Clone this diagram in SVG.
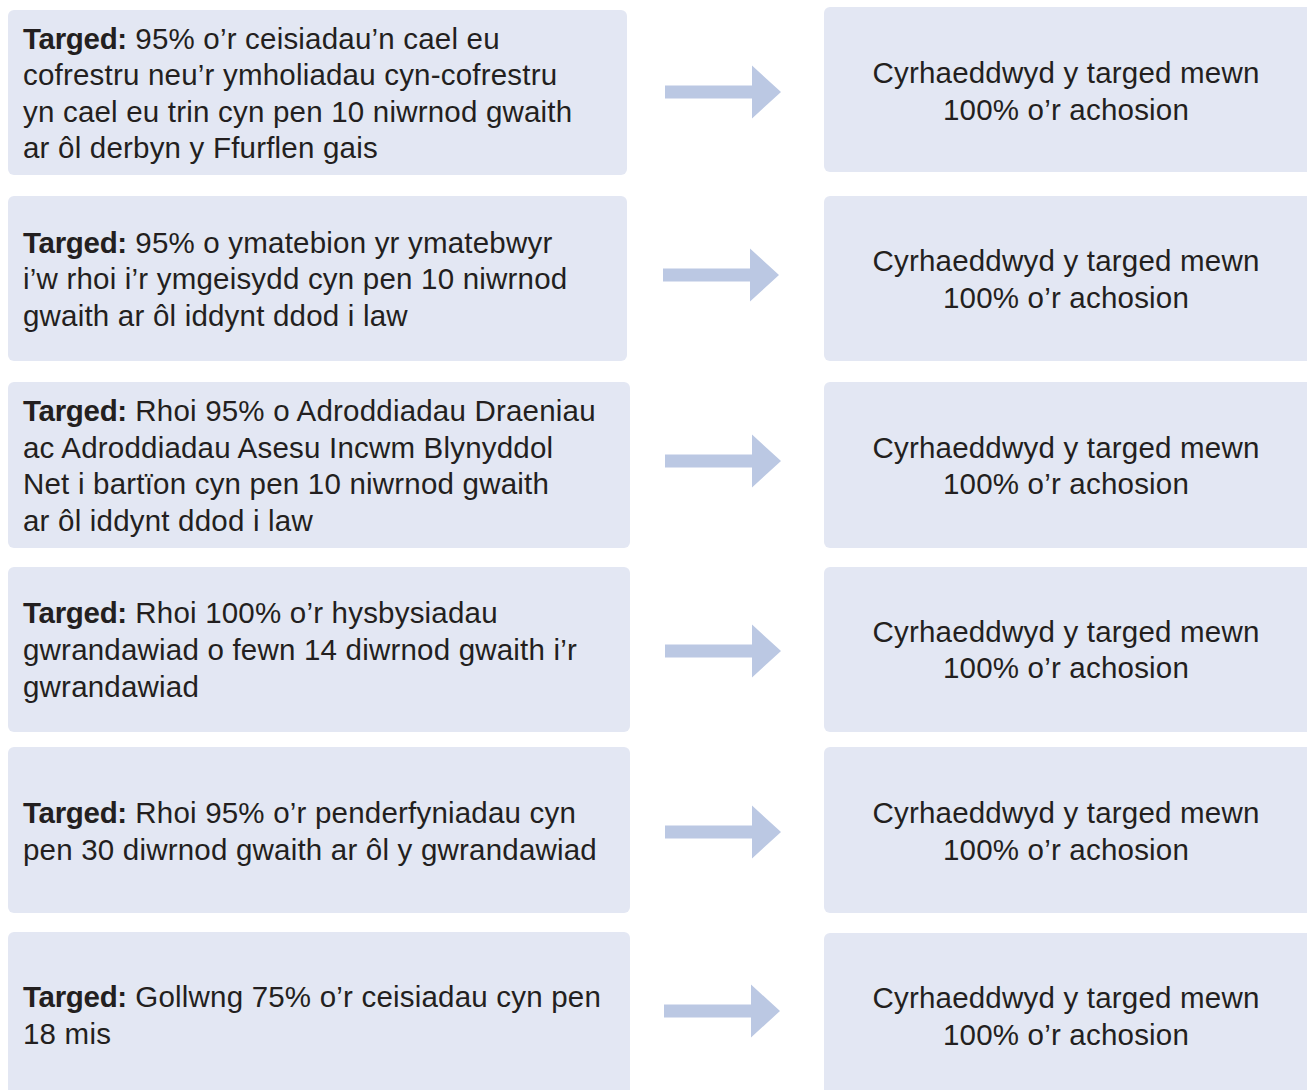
<svg xmlns="http://www.w3.org/2000/svg" width="1307" height="1090" viewBox="0 0 1307 1090">
<defs>
<style>
.box{fill:#E3E7F3;}
.t{font-family:"Liberation Sans",Arial,sans-serif;font-size:29.5px;letter-spacing:0.2px;fill:#231F20;}
.b{font-weight:bold;letter-spacing:-0.3px;}
.c{text-anchor:middle;}
.arr{fill:#BBC8E3;}
</style>
<path id="arrow" d="M0,-6.5 H87 V-26.5 L116,0 L87,26.5 V6.5 H0 Z"/>
</defs>
<rect width="1307" height="1090" fill="#FFFFFF"/>
<g id="connectors" class="arr">
<use href="#arrow" x="665" y="92"/>
<use href="#arrow" x="663" y="275"/>
<use href="#arrow" x="665" y="461"/>
<use href="#arrow" x="665" y="651"/>
<use href="#arrow" x="665" y="832"/>
<use href="#arrow" x="664" y="1011"/>
</g>
<g id="target1">
<rect class="box" x="8" y="10" width="619" height="165" rx="6"/>
<text class="t" x="23" y="49"><tspan class="b">Targed:</tspan> 95% o’r ceisiadau’n cael eu</text>
<text class="t" x="23" y="85">cofrestru neu’r ymholiadau cyn-cofrestru</text>
<text class="t" x="23" y="122">yn cael eu trin cyn pen 10 niwrnod gwaith</text>
<text class="t" x="23" y="158">ar ôl derbyn y Ffurflen gais</text>
</g>
<g id="target2">
<rect class="box" x="8" y="196" width="619" height="165" rx="6"/>
<text class="t" x="23" y="253"><tspan class="b">Targed:</tspan> 95% o ymatebion yr ymatebwyr</text>
<text class="t" x="23" y="289">i’w rhoi i’r ymgeisydd cyn pen 10 niwrnod</text>
<text class="t" x="23" y="326">gwaith ar ôl iddynt ddod i law</text>
</g>
<g id="target3">
<rect class="box" x="8" y="382" width="622" height="166" rx="6"/>
<text class="t" x="23" y="421"><tspan class="b">Targed:</tspan> Rhoi 95% o Adroddiadau Draeniau</text>
<text class="t" x="23" y="458">ac Adroddiadau Asesu Incwm Blynyddol</text>
<text class="t" x="23" y="494">Net i bartïon cyn pen 10 niwrnod gwaith</text>
<text class="t" x="23" y="531">ar ôl iddynt ddod i law</text>
</g>
<g id="target4">
<rect class="box" x="8" y="567" width="622" height="165" rx="6"/>
<text class="t" x="23" y="623"><tspan class="b">Targed:</tspan> Rhoi 100% o’r hysbysiadau</text>
<text class="t" x="23" y="660">gwrandawiad o fewn 14 diwrnod gwaith i’r</text>
<text class="t" x="23" y="697">gwrandawiad</text>
</g>
<g id="target5">
<rect class="box" x="8" y="747" width="622" height="166" rx="6"/>
<text class="t" x="23" y="823"><tspan class="b">Targed:</tspan> Rhoi 95% o’r penderfyniadau cyn</text>
<text class="t" x="23" y="860">pen 30 diwrnod gwaith ar ôl y gwrandawiad</text>
</g>
<g id="target6">
<rect class="box" x="8" y="932" width="622" height="170" rx="6"/>
<text class="t" x="23" y="1007"><tspan class="b">Targed:</tspan> Gollwng 75% o’r ceisiadau cyn pen</text>
<text class="t" x="23" y="1044">18 mis</text>
</g>
<g id="result1">
<rect class="box" x="824" y="7" width="490" height="165" rx="6"/>
<text class="t c" x="1066" y="83">Cyrhaeddwyd y targed mewn</text>
<text class="t c" x="1066" y="120">100% o’r achosion</text>
</g>
<g id="result2">
<rect class="box" x="824" y="196" width="490" height="165" rx="6"/>
<text class="t c" x="1066" y="271">Cyrhaeddwyd y targed mewn</text>
<text class="t c" x="1066" y="308">100% o’r achosion</text>
</g>
<g id="result3">
<rect class="box" x="824" y="382" width="490" height="166" rx="6"/>
<text class="t c" x="1066" y="458">Cyrhaeddwyd y targed mewn</text>
<text class="t c" x="1066" y="494">100% o’r achosion</text>
</g>
<g id="result4">
<rect class="box" x="824" y="567" width="490" height="165" rx="6"/>
<text class="t c" x="1066" y="642">Cyrhaeddwyd y targed mewn</text>
<text class="t c" x="1066" y="678">100% o’r achosion</text>
</g>
<g id="result5">
<rect class="box" x="824" y="747" width="490" height="166" rx="6"/>
<text class="t c" x="1066" y="823">Cyrhaeddwyd y targed mewn</text>
<text class="t c" x="1066" y="860">100% o’r achosion</text>
</g>
<g id="result6">
<rect class="box" x="824" y="933" width="490" height="170" rx="6"/>
<text class="t c" x="1066" y="1008">Cyrhaeddwyd y targed mewn</text>
<text class="t c" x="1066" y="1045">100% o’r achosion</text>
</g>
</svg>
